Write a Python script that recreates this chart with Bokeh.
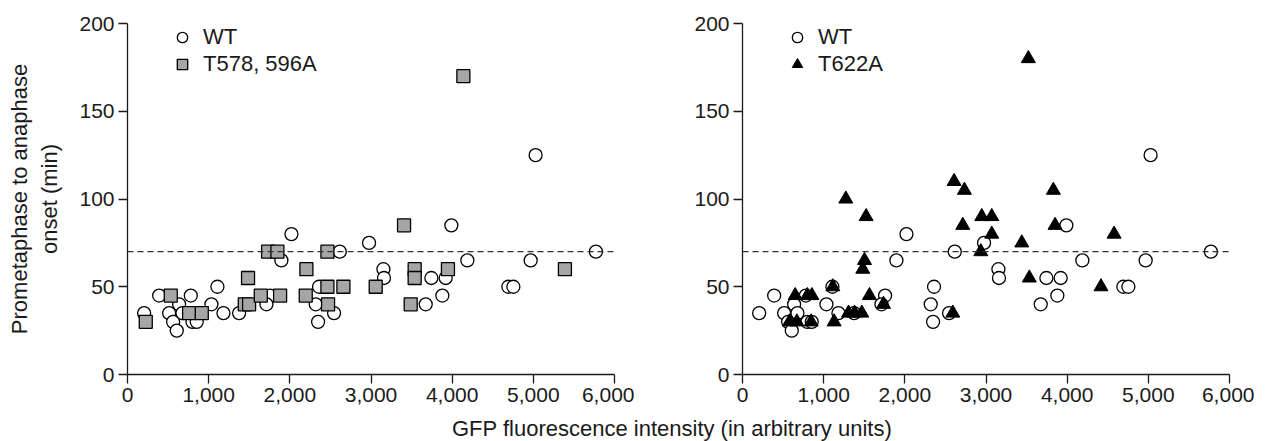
from bokeh.plotting import figure
from bokeh.models import Span, FixedTicker, NumeralTickFormatter, Legend, LegendItem, Div
from bokeh.layouts import row, column
from bokeh.embed import file_html
from bokeh.resources import INLINE

# ---- data ----
wt_x = [205, 390, 513, 636, 562, 607, 780, 677, 800, 853, 1034, 1108, 1182, 1375,
        1757, 1712, 1896, 2020, 2360, 2319, 2348, 2545, 2615, 2976, 3990, 3153,
        3160, 3744, 3920, 3879, 3674, 4187, 4692, 4754, 4967, 5771, 5028]
wt_y = [35, 45, 35, 40, 30, 25, 45, 35, 30, 30, 40, 50, 35, 35,
        45, 40, 65, 80, 50, 40, 30, 35, 70, 75, 85, 60,
        55, 55, 55, 45, 40, 65, 50, 50, 65, 70, 125]

t578_x = [225, 533, 759, 915, 1485, 1445, 1498, 1642, 1732, 1847, 1880, 2196, 2204,
          2463, 2463, 2471, 2660, 3058, 3407, 3538, 3538, 3489, 3948, 5389, 4138]
t578_y = [30, 45, 35, 35, 55, 40, 40, 45, 70, 70, 45, 45, 60,
          50, 70, 40, 50, 50, 85, 60, 55, 40, 60, 60, 170]

t622_x = [579, 670, 649, 800, 855, 846, 1113, 1129, 1273, 1306, 1380, 1470, 1482,
          1503, 1523, 1564, 1737, 2591, 2607, 2734, 2714, 2948, 3071, 3071, 2936,
          3441, 3830, 3851, 3534, 4417, 4578, 3522]
t622_y = [30, 30, 45, 45, 45, 30, 50, 30, 100, 35, 35, 35, 60,
          65, 90, 45, 40, 35, 110, 105, 85, 90, 90, 80, 70,
          75, 105, 85, 55, 50, 80, 180]

x_ticks = [0, 1000, 2000, 3000, 4000, 5000, 6000]
y_ticks = [0, 50, 100, 150, 200]
threshold = 70

FONT = "Liberation Sans"
TICK_PX = "21px"
LABEL_PX = "22px"
INK = "#1a1a1a"


def make_panel(left_border, right_border, ylabel):
    p = figure(x_range=(0, 6000), y_range=(0, 200),
               frame_width=487, frame_height=351,
               min_border_left=left_border, min_border_right=right_border,
               min_border_top=23, min_border_bottom=44,
               output_backend="svg", toolbar_location=None)
    p.outline_line_color = None
    p.xgrid.visible = False
    p.ygrid.visible = False
    for ax in (p.xaxis[0], p.yaxis[0]):
        ax.axis_line_color = INK
        ax.axis_line_width = 1.3
        ax.major_tick_line_color = INK
        ax.major_tick_line_width = 1.3
        ax.major_tick_out = 9
        ax.major_tick_in = 0
        ax.minor_tick_line_color = None
        ax.major_label_text_font = FONT
        ax.major_label_text_font_size = TICK_PX
        ax.major_label_text_color = INK
        ax.major_label_standoff = 4
    p.xaxis.ticker = FixedTicker(ticks=x_ticks)
    p.xaxis.formatter = NumeralTickFormatter(format="0,0")
    p.yaxis.ticker = FixedTicker(ticks=y_ticks)
    if ylabel:
        p.yaxis.axis_label = ylabel
        p.yaxis.axis_label_text_font = FONT
        p.yaxis.axis_label_text_font_size = LABEL_PX
        p.yaxis.axis_label_text_font_style = "normal"
        p.yaxis.axis_label_text_color = INK
        p.yaxis.axis_label_standoff = 14
    p.add_layout(Span(location=threshold, dimension="width", line_color="#333333",
                      line_width=1.4, line_dash="6 4"))
    return p


def style_legend(p, items):
    leg = Legend(items=items, location=(40, 297), orientation="vertical",
                 glyph_width=30, glyph_height=26, label_height=26, spacing=1,
                 padding=0, margin=0, label_standoff=6,
                 label_text_font=FONT, label_text_font_size=LABEL_PX,
                 label_text_color=INK, border_line_color=None,
                 background_fill_alpha=0)
    p.add_layout(leg)


# left panel
p1 = make_panel(127, 20, "Prometaphase to anaphase\nonset (min)")
r_wt1 = p1.scatter(wt_x, wt_y, marker="circle", size=13, fill_color="white",
                   line_color="black", line_width=1.3)
r_sq = p1.scatter(t578_x, t578_y, marker="square", size=13, fill_color="#a6a6a6",
                  line_color="black", line_width=1.3)
style_legend(p1, [LegendItem(label="WT", renderers=[r_wt1]),
                  LegendItem(label="T578, 596A", renderers=[r_sq])])

# right panel
p2 = make_panel(108, 25, None)
r_wt2 = p2.scatter(wt_x, wt_y, marker="circle", size=13, fill_color="white",
                   line_color="black", line_width=1.3)
r_tri = p2.scatter(t622_x, t622_y, marker="triangle", size=14, fill_color="black",
                   line_color="black", line_width=1)
style_legend(p2, [LegendItem(label="WT", renderers=[r_wt2]),
                  LegendItem(label="T622A", renderers=[r_tri])])

xtitle = Div(text='<div style="padding-left:452px; white-space:nowrap;">'
                  'GFP fluorescence intensity (in arbitrary units)</div>',
             width=1250, height=22, margin=0,
             styles={"font-family": FONT, "font-size": LABEL_PX, "color": INK,
                     "line-height": "22px"})

layout = column(row(p1, p2), xtitle)
open("out.html", "w").write(file_html(layout, INLINE))
